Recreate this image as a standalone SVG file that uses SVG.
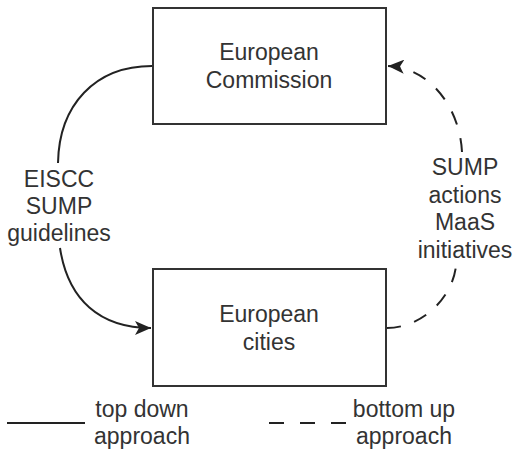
<svg xmlns="http://www.w3.org/2000/svg" width="514" height="454" viewBox="0 0 514 454">
<style>
.box{fill:#fff;stroke:#333;stroke-width:2}
.t{font-family:"Liberation Sans",Arial,sans-serif;font-size:23px;fill:#333;text-anchor:middle}
.c{fill:none;stroke:#222;stroke-width:2}
.d{stroke-dasharray:14 14}
</style>
<defs>
<marker id="ah" markerUnits="userSpaceOnUse" markerWidth="17" markerHeight="14" viewBox="0 0 17 14" refX="16" refY="7" orient="auto">
<path d="M0,0 L16,7 L0,14 L4,7 Z" fill="#222"/>
</marker>
</defs>
<rect width="514" height="454" fill="#fff"/>
<g id="commission">
<rect class="box" x="153" y="8" width="233" height="116"/>
<text class="t" x="269" y="60">European</text>
<text class="t" x="269" y="88">Commission</text>
</g>
<g id="cities">
<rect class="box" x="153" y="269" width="233" height="117"/>
<text class="t" x="269" y="322">European</text>
<text class="t" x="269" y="350">cities</text>
</g>
<g id="connectors">
<path class="c" d="M152,66 C95,66 59,105 58,163 M60,248 C68,300 100,328 151,328" marker-end="url(#ah)"/>
<path class="c d" d="M387,328 C420,328 452,300 456,266 M462,152 C460,110 432,68 388,66" marker-end="url(#ah)"/>
</g>
<g id="label-left">
<text class="t" x="59" y="187">EISCC</text>
<text class="t" x="59" y="214">SUMP</text>
<text class="t" x="59" y="241">guidelines</text>
</g>
<g id="label-right">
<text class="t" x="465" y="175">SUMP</text>
<text class="t" x="465" y="203">actions</text>
<text class="t" x="465" y="230">MaaS</text>
<text class="t" x="465" y="258">initiatives</text>
</g>
<g id="legend">
<line class="c" x1="7" y1="423" x2="85" y2="423"/>
<text class="t" x="142" y="417">top down</text>
<text class="t" x="142" y="444">approach</text>
<line class="c" x1="269" y1="423" x2="347" y2="423" stroke-dasharray="15 16"/>
<text class="t" x="404" y="417">bottom up</text>
<text class="t" x="404" y="444">approach</text>
</g>
</svg>
